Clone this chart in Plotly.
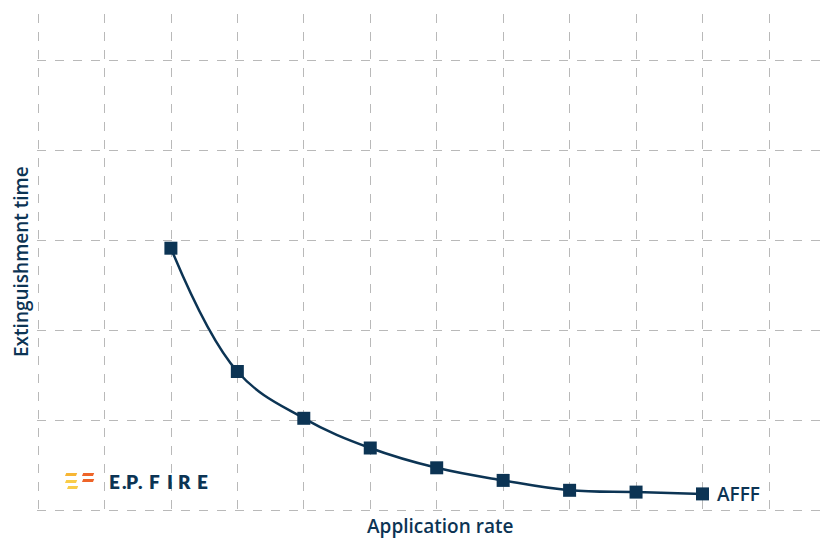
import plotly.graph_objects as go

# Application rate steps (grid units) and extinguishment time (grid units)
rate = [2, 3, 4, 5, 6, 7, 8, 9, 10]
time_afff = [2.92, 1.55, 1.03, 0.70, 0.48, 0.34, 0.23, 0.21, 0.19]
series_name = "AFFF"

NAVY = "#0c3454"
GRID = "#b9b9b9"
TITLE_FONT = dict(family="Open Sans", size=19, color=NAVY, weight=600)

W, H = 827, 539
L, R, T, B = 37, 0, 14, 27
plot_w = W - L - R
plot_h = H - T - B
x_step = 66.45
y_step = 90.0
x0 = -1 / x_step
y0 = -1 / y_step
# tiny offset keeps the grid line at the origin from being dropped
grid_start = 0.002

fig = go.Figure()
fig.add_trace(go.Scatter(
    x=rate, y=time_afff, mode="lines+markers",
    line=dict(color=NAVY, width=2.5, shape="spline", smoothing=1.1),
    marker=dict(symbol="square", size=13, color=NAVY),
    showlegend=False, hoverinfo="skip",
))

# series label next to the last point
fig.add_annotation(
    x=rate[-1], y=time_afff[-1], text=series_name, showarrow=False,
    xanchor="left", yanchor="middle", xshift=12,
    font=TITLE_FONT,
)


def px_x(px):
    return (px - L) / plot_w


def px_y(py):
    return (T + plot_h - py) / plot_h


# axis titles
fig.add_annotation(
    xref="paper", yref="paper", x=px_x(440), y=px_y(526),
    text="Application rate", showarrow=False, xanchor="center", yanchor="middle",
    font=TITLE_FONT,
)
fig.add_annotation(
    xref="paper", yref="paper", x=px_x(21), y=px_y(262),
    text="Extinguishment time", textangle=-90, showarrow=False,
    xanchor="center", yanchor="middle",
    font=TITLE_FONT,
)

# brand mark: slanted flame bars
YEL = "#f9cc48"
AMB = "#f7b634"
ORG = "#ee6428"
bars = [
    (65, 76, 473, 476, AMB), (65, 76, 480, 483, YEL), (67, 77, 486, 489, YEL),
    (82, 93, 473, 476, ORG), (82, 93, 479, 482, ORG),
]
for bx0, bx1, by0, by1, c in bars:
    sl = 1.2
    path = (f"M {px_x(bx0 + sl)},{px_y(by0)} L {px_x(bx1 + sl)},{px_y(by0)} "
            f"L {px_x(bx1)},{px_y(by1)} L {px_x(bx0)},{px_y(by1)} Z")
    fig.add_shape(type="path", xref="paper", yref="paper", path=path,
                  line=dict(width=0), fillcolor=c)

# brand wordmark, letter by letter for the wide tracking
letters = [("E", 114), (".", 124), ("P", 132), (".", 140),
           ("F", 154), ("I", 169.5), ("R", 184), ("E", 202)]
for ch, cx in letters:
    fig.add_annotation(
        xref="paper", yref="paper", x=px_x(cx), y=px_y(481),
        text=ch, showarrow=False, xanchor="center", yanchor="middle",
        font=dict(family="Lato", size=19, color=NAVY, weight=800),
    )

fig.update_xaxes(
    range=[x0, x0 + plot_w / x_step], dtick=1, tick0=grid_start,
    showgrid=True, gridcolor=GRID, griddash="dash", gridwidth=1,
    zeroline=False, showline=False, showticklabels=False, ticks="",
)
fig.update_yaxes(
    range=[y0, y0 + plot_h / y_step], dtick=1, tick0=grid_start,
    showgrid=True, gridcolor=GRID, griddash="dash", gridwidth=1,
    zeroline=False, showline=False, showticklabels=False, ticks="",
)

fig.update_layout(
    width=W, height=H,
    margin=dict(l=L, r=R, t=T, b=B),
    paper_bgcolor="white", plot_bgcolor="white",
)

fig.write_html("out.html")
